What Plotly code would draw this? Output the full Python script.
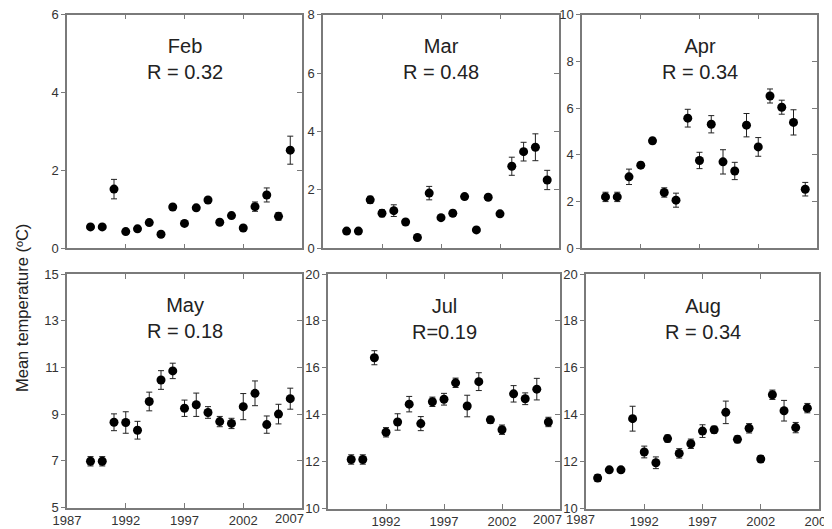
import plotly.graph_objects as go

# ---------------- data ----------------
years = list(range(1989, 2007))
years_aug = list(range(1988, 2007))
x_ticks = [1987, 1992, 1997, 2002, 2007]

feb = [0.55, 0.55, 1.52, 0.43, 0.50, 0.66, 0.36, 1.06, 0.64, 1.04, 1.24, 0.67, 0.84, 0.52, 1.07, 1.37, 0.82, 2.52]
feb_err = [0.05, 0.05, 0.25, 0.05, 0.05, 0.05, 0.05, 0.05, 0.05, 0.05, 0.05, 0.05, 0.05, 0.05, 0.12, 0.18, 0.10, 0.36]

mar = [0.59, 0.59, 1.66, 1.20, 1.29, 0.90, 0.37, 1.89, 1.05, 1.20, 1.77, 0.63, 1.75, 1.18, 2.81, 3.31, 3.46, 2.34]
mar_err = [0.05, 0.05, 0.12, 0.12, 0.20, 0.05, 0.05, 0.23, 0.05, 0.10, 0.05, 0.05, 0.05, 0.08, 0.31, 0.32, 0.46, 0.33]

apr = [2.20, 2.20, 3.06, 3.56, 4.60, 2.39, 2.06, 5.57, 3.76, 5.31, 3.70, 3.31, 5.27, 4.34, 6.52, 6.04, 5.39, 2.53]
apr_err = [0.20, 0.20, 0.33, 0.12, 0.12, 0.20, 0.30, 0.38, 0.35, 0.37, 0.52, 0.37, 0.50, 0.40, 0.30, 0.30, 0.54, 0.29]

may = [6.98, 6.98, 8.65, 8.64, 8.31, 9.54, 10.46, 10.85, 9.25, 9.40, 9.07, 8.68, 8.60, 9.32, 9.89, 8.55, 9.00, 9.66]
may_err = [0.20, 0.20, 0.36, 0.46, 0.38, 0.40, 0.40, 0.33, 0.35, 0.50, 0.25, 0.22, 0.22, 0.56, 0.53, 0.37, 0.42, 0.45]

jul = [12.09, 12.09, 16.43, 13.25, 13.69, 14.45, 13.62, 14.55, 14.66, 15.36, 14.37, 15.41, 13.78, 13.36, 14.89, 14.68, 15.09, 13.69]
jul_err = [0.20, 0.20, 0.30, 0.20, 0.35, 0.33, 0.30, 0.20, 0.25, 0.20, 0.46, 0.38, 0.15, 0.20, 0.35, 0.25, 0.46, 0.20]

aug = [11.30, 11.65, 11.65, 13.83, 12.41, 11.95, 12.98, 12.35, 12.76, 13.30, 13.36, 14.10, 12.95, 13.42, 12.11, 14.85, 14.17, 13.45, 14.28]
aug_err = [0.15, 0.10, 0.10, 0.53, 0.25, 0.25, 0.15, 0.20, 0.20, 0.27, 0.15, 0.48, 0.15, 0.20, 0.15, 0.20, 0.44, 0.22, 0.20]

titles = ["Feb<br>R = 0.32", "Mar<br>R = 0.48", "Apr<br>R = 0.34",
          "May<br>R = 0.18", "Jul<br>R=0.19", "Aug<br>R = 0.34"]
y_title = "Mean temperature (ºC)"

# x tick labels per bottom panel; edge labels that the reference nudges
# inward are drawn separately (value, anchor, shift)
may_xlabels = ["1987", "1992", "1997", "2002", ""]
jul_xlabels = ["", "1992", "1997", "2002", ""]
aug_xlabels = ["", "1992", "1997", "2002", "2007"]
may_edge = [(2007, "right", 3)]
jul_edge = [(2007, "right", 3)]
aug_edge = [(1987, "left", -21)]

# ---------------- layout geometry ----------------
# the page body adds an 8 px offset; positions below are in window pixels
OFF = 8
W, H = 832 - OFF, 529 - OFF
FONT = "Liberation Sans, Arial, sans-serif"
AX = "#7a7a7a"
TICKFONT = dict(size=13, color="#333", family=FONT)

panels = [
    dict(x=years, y=feb, e=feb_err, yr=[0, 6], yt=[0, 2, 4, 6], px=(67, 302), py=(14.7, 248.3), xl=None, edge=[]),
    dict(x=years, y=mar, e=mar_err, yr=[0, 8], yt=[0, 2, 4, 6, 8], px=(323, 559), py=(14.7, 248.3), xl=None, edge=[]),
    dict(x=years, y=apr, e=apr_err, yr=[0, 10], yt=[0, 2, 4, 6, 8, 10], px=(582, 817), py=(14.7, 248.3), xl=None, edge=[]),
    dict(x=years, y=may, e=may_err, yr=[5, 15], yt=[5, 7, 9, 11, 13, 15], px=(67, 302), py=(274, 507.5), xl=may_xlabels, edge=may_edge),
    dict(x=years, y=jul, e=jul_err, yr=[10, 20], yt=[10, 12, 14, 16, 18, 20], px=(328, 560), py=(274, 508.5), xl=jul_xlabels, edge=jul_edge),
    dict(x=years_aug, y=aug, e=aug_err, yr=[10, 20], yt=[10, 12, 14, 16, 18, 20], px=(586, 819), py=(274, 508.5), xl=aug_xlabels, edge=aug_edge),
]

fig = go.Figure()
layout = dict(
    width=W, height=H,
    margin=dict(l=0, r=0, t=0, b=0, autoexpand=False),
    paper_bgcolor="white", plot_bgcolor="white",
    showlegend=False,
    font=dict(family=FONT, color="#333"),
    annotations=[],
)

n = len(panels)
for i, p in enumerate(panels):
    k = i + 1
    xa = "x" if k == 1 else f"x{k}"
    ya = "y" if k == 1 else f"y{k}"
    k2 = k + n
    ya2 = f"y{k2}"
    xdom = [(p["px"][0] - OFF) / W, (p["px"][1] - OFF) / W]
    ydom = [1 - (p["py"][1] - OFF) / H, 1 - (p["py"][0] - OFF) / H]

    fig.add_trace(go.Scatter(
        x=p["x"], y=p["y"], xaxis=xa, yaxis=ya, mode="markers",
        marker=dict(color="black", size=9),
        error_y=dict(type="data", array=p["e"], color="#222", thickness=1, width=3),
        hoverinfo="x+y",
    ))
    # invisible trace to anchor the right-side (inside tick) axis
    fig.add_trace(go.Scatter(
        x=p["x"], y=p["y"], xaxis=xa, yaxis=ya2, mode="markers",
        marker=dict(opacity=0), hoverinfo="skip",
    ))

    xkey = "xaxis" if k == 1 else f"xaxis{k}"
    ykey = "yaxis" if k == 1 else f"yaxis{k}"
    layout[xkey] = dict(
        domain=xdom, anchor=ya, range=[1987, 2007],
        tickvals=x_ticks,
        ticktext=p["xl"] if p["xl"] else [""] * len(x_ticks),
        showticklabels=p["xl"] is not None,
        ticks="inside", ticklen=5, tickcolor=AX, tickwidth=1.2,
        showline=True, linecolor=AX, linewidth=1.5, mirror="ticks",
        showgrid=False, zeroline=False, automargin=False,
        ticklabeloverflow="allow",
        tickfont=TICKFONT,
    )
    layout[ykey] = dict(
        domain=ydom, anchor=xa, range=p["yr"], tickvals=p["yt"],
        ticks="outside", ticklen=4, tickcolor=AX, tickwidth=1.2,
        showline=True, linecolor=AX, linewidth=1.5, mirror=True,
        showgrid=False, zeroline=False, automargin=False,
        ticklabeloverflow="allow",
        tickfont=TICKFONT,
    )
    layout[f"yaxis{k2}"] = dict(
        overlaying=ya, anchor=xa, side="right", range=p["yr"], tickvals=p["yt"],
        ticks="inside", ticklen=5, tickcolor=AX, tickwidth=1.2,
        showticklabels=False, showline=False, showgrid=False, zeroline=False,
        automargin=False,
    )
    layout["annotations"].append(dict(
        text=titles[i], xref=f"{xa} domain", yref=f"{ya} domain",
        x=0.5, y=0.81, xanchor="center", yanchor="middle", showarrow=False,
        font=dict(size=20, color="#222", family=FONT),
    ))
    for (val, anc, shift) in p["edge"]:
        layout["annotations"].append(dict(
            text=str(val), xref=xa, yref=f"{ya} domain",
            x=val, y=0, xanchor=anc, yanchor="top", xshift=shift, yshift=-2,
            showarrow=False, borderpad=0, font=TICKFONT,
        ))

layout["annotations"].append(dict(
    text=y_title, xref="paper", yref="paper", x=(22 - OFF) / W, y=1 - (308 - OFF) / H,
    xanchor="center", yanchor="middle", textangle=-90, showarrow=False,
    font=dict(size=16.5, color="#222", family=FONT),
))

fig.update_layout(**layout)
fig.write_html("out.html")
